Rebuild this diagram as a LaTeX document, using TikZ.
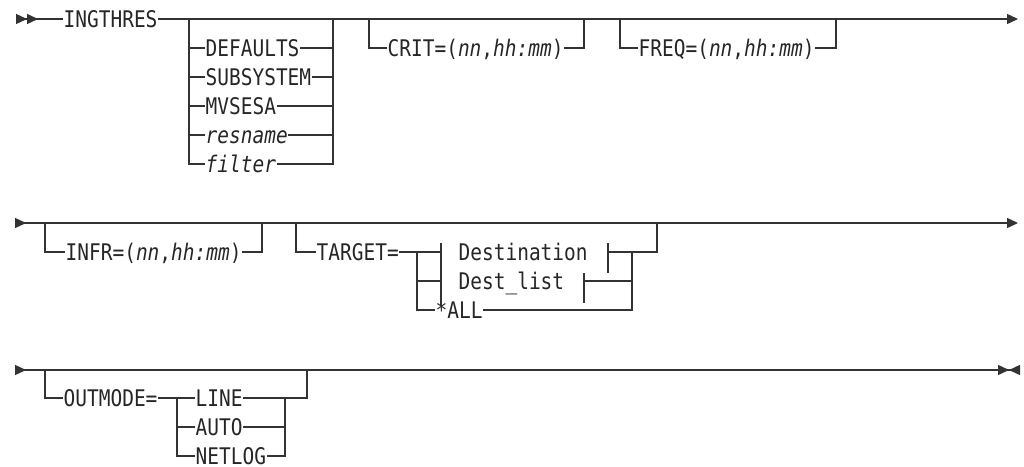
\documentclass[tikz,border=0pt]{standalone}
\usepackage{fontspec}
\setmonofont{DejaVu Sans Mono}[FakeStretch=0.85]
\usetikzlibrary{arrows.meta}
\definecolor{railgray}{HTML}{333333}
\definecolor{railtext}{HTML}{262626}

\begin{document}
\begin{tikzpicture}[
    x=1pt,
    y=-1pt,
    >={Triangle[length=11pt,width=10pt]},
    rail/.style={line width=1.4pt,draw=railgray},
    kw/.style={
        anchor=west,
        inner xsep=0.5pt,
        inner ysep=0pt,
        text height=16.6pt,
        text depth=0pt,
        text=railtext,
        font=\fontsize{22.9}{26}\selectfont\ttfamily
    }
]
\useasboundingbox (0,0) rectangle (1024,466);

% First line.
\node[kw] (ingthres) at (63,19) {INGTHRES};
\coordinate (b1) at (15,19);
\coordinate (e1) at (1018,19);
\draw[rail,{>[sep=1pt]>}-] (b1) -- (ingthres.west);
\draw[rail,->] (ingthres.east) -- (e1);

\node[kw] (defaults) at (205,48) {DEFAULTS};
\node[kw] (subsystem) at (205,77) {SUBSYSTEM};
\node[kw] (mvsesa) at (205,106) {MVSESA};
\node[kw] (resname) at (205,135) {\textit{resname}};
\node[kw] (filter) at (205,164) {\textit{filter}};
\coordinate (a1) at (189,19);
\coordinate (a2) at (333,19);
\draw[rail] (a1) |- (filter.west);
\draw[rail] (filter.east) -| (a2);
\foreach \n in {defaults,subsystem,mvsesa,resname} {
    \draw[rail] (a1 |- \n.west) -- (\n.west);
    \draw[rail] (\n.east) -- (a2 |- \n.east);
}

\node[kw] (crit) at (387,48) {CRIT=(\textit{nn},\textit{hh:mm})};
\coordinate (c1) at (369,19);
\coordinate (c2) at (584,19);
\draw[rail] (c1) |- (crit.west);
\draw[rail] (crit.east) -| (c2);

\node[kw] (freq) at (638,48) {FREQ=(\textit{nn},\textit{hh:mm})};
\coordinate (f1) at (620,19);
\coordinate (f2) at (836,19);
\draw[rail] (f1) |- (freq.west);
\draw[rail] (freq.east) -| (f2);

% Second line.
\coordinate (b2) at (15,223);
\coordinate (e2) at (1018,223);
\draw[rail,{>}->] (b2) -- (e2);

\node[kw] (infr) at (65,252) {INFR=(\textit{nn},\textit{hh:mm})};
\coordinate (i1) at (45,223);
\coordinate (i2) at (262,223);
\draw[rail] (i1) |- (infr.west);
\draw[rail] (infr.east) -| (i2);

\node[kw] (target) at (316,252) {TARGET=};
\node[kw] (dest) at (458,252) {Destination};
\node[kw] (destlist) at (458,281) {Dest\_list};
\node[kw] (all) at (435,310) {*ALL};
\coordinate (t1) at (296,223);
\coordinate (t2) at (657,223);
\coordinate (t3) at (417,252);
\coordinate (t4) at (632,252);
\coordinate (dl) at (441,252);
\coordinate (dr) at (608,252);
\coordinate (ll) at (441,281);
\coordinate (lr) at (584,281);
\draw[rail] (t1) |- (target.west);
\draw[rail] (target.east) -- (dl);
\draw[rail] (t3) |- (all.west);
\draw[rail] (t3 |- ll) -- (ll);
\draw[rail] (dr) -| (t2);
\draw[rail] (lr) -- (t4 |- lr);
\draw[rail] (t4) |- (all.east);
% fragment ticks
\draw[rail] (dl) ++(0,-9) -- (441,305);
\draw[rail] (dr) ++(0,-9) -- ++(0,30);
\draw[rail] (lr) ++(0,-8) -- ++(0,30);

% Third line.
\coordinate (b3) at (15,370);
\coordinate (e3) at (1020,370);
\draw[rail,{>}-{>[sep=0pt]>[reversed]}] (b3) -- (e3);
\draw[rail,line width=2.4pt] (315,370) -- (338,370);

\node[kw] (outmode) at (63,398) {OUTMODE=};
\node[kw] (line) at (195,398) {LINE};
\node[kw] (auto) at (195,427) {AUTO};
\node[kw] (netlog) at (195,456) {NETLOG};
\coordinate (o1) at (45,370);
\coordinate (o2) at (307,370);
\coordinate (o3) at (177,398);
\coordinate (o4) at (285,398);
\draw[rail] (o1) |- (outmode.west);
\draw[rail] (outmode.east) -- (line.west);
\draw[rail] (line.east) -| (o2);
\draw[rail] (o3) |- (netlog.west);
\draw[rail] (o3 |- auto.west) -- (auto.west);
\draw[rail] (o4) |- (netlog.east);
\draw[rail] (auto.east) -- (o4 |- auto.east);

\end{tikzpicture}
\end{document}
